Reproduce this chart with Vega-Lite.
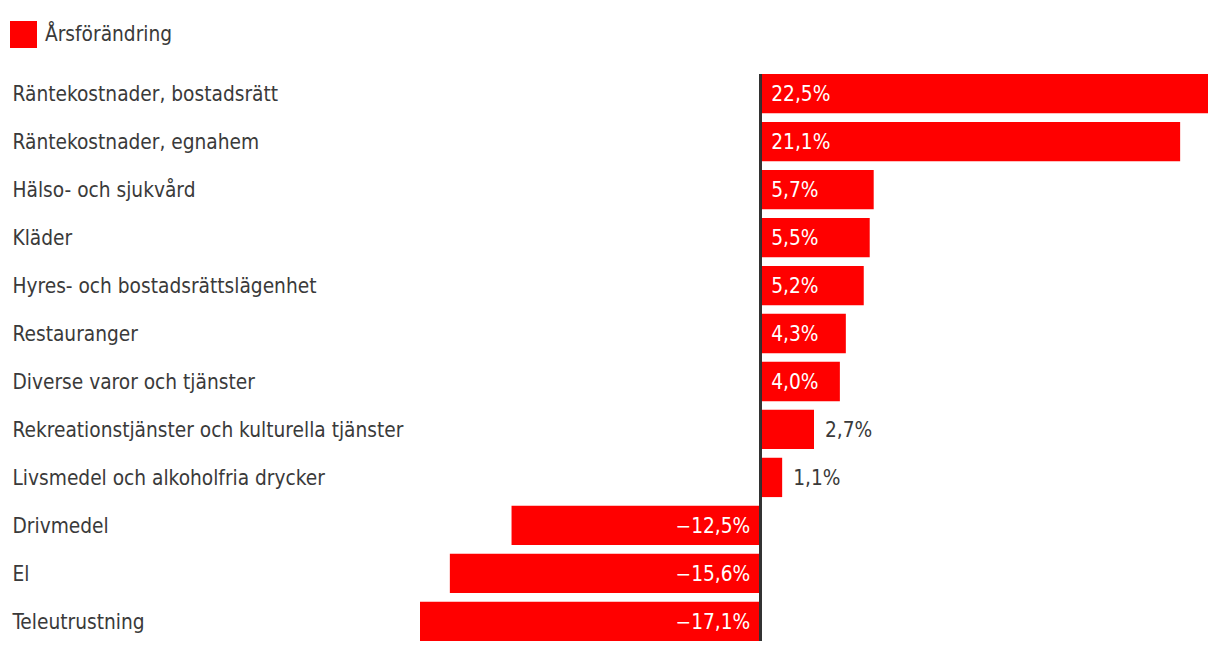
{
  "$schema": "https://vega.github.io/schema/vega-lite/v6.json",
  "autosize": {"type": "none"},
  "width": 788,
  "height": 567,
  "padding": {"left": 420, "top": 74, "right": 12, "bottom": 11},
  "background": "white",
  "config": {
    "view": {"stroke": null},
    "font": "DejaVu Sans Condensed, Roboto, sans-serif",
    "text": {"font": "DejaVu Sans Condensed, Roboto, sans-serif"}
  },
  "data": {
    "values": [
      {"kategori": "Räntekostnader, bostadsrätt", "value": 22.5, "label": "22,5%", "serie": "Årsförändring"},
      {"kategori": "Räntekostnader, egnahem", "value": 21.1, "label": "21,1%", "serie": "Årsförändring"},
      {"kategori": "Hälso- och sjukvård", "value": 5.7, "label": "5,7%", "serie": "Årsförändring"},
      {"kategori": "Kläder", "value": 5.5, "label": "5,5%", "serie": "Årsförändring"},
      {"kategori": "Hyres- och bostadsrättslägenhet", "value": 5.2, "label": "5,2%", "serie": "Årsförändring"},
      {"kategori": "Restauranger", "value": 4.3, "label": "4,3%", "serie": "Årsförändring"},
      {"kategori": "Diverse varor och tjänster", "value": 4.0, "label": "4,0%", "serie": "Årsförändring"},
      {"kategori": "Rekreationstjänster och kulturella tjänster", "value": 2.7, "label": "2,7%", "serie": "Årsförändring"},
      {"kategori": "Livsmedel och alkoholfria drycker", "value": 1.1, "label": "1,1%", "serie": "Årsförändring"},
      {"kategori": "Drivmedel", "value": -12.5, "label": "−12,5%", "serie": "Årsförändring"},
      {"kategori": "El", "value": -15.6, "label": "−15,6%", "serie": "Årsförändring"},
      {"kategori": "Teleutrustning", "value": -17.1, "label": "−17,1%", "serie": "Årsförändring"}
    ]
  },
  "encoding": {
    "y": {
      "field": "kategori",
      "type": "nominal",
      "sort": null,
      "scale": {"paddingInner": 0.18, "paddingOuter": 0},
      "axis": {
        "title": null,
        "domain": false,
        "ticks": false,
        "labelAlign": "left",
        "labelPadding": 408,
        "labelOffset": 1.5,
        "labelFontSize": 20.7,
        "labelColor": "#3a3a3a",
        "labelFont": "DejaVu Sans Condensed, Roboto, sans-serif",
        "labelLimit": 500
      }
    }
  },
  "layer": [
    {
      "mark": {"type": "bar"},
      "encoding": {
        "x": {
          "field": "value",
          "type": "quantitative",
          "scale": {"domain": [-17.1, 22.5], "nice": false, "zero": false},
          "axis": null
        },
        "color": {
          "field": "serie",
          "type": "nominal",
          "scale": {"range": ["#ff0000"]},
          "legend": {
            "title": null,
            "orient": "none",
            "legendX": -410,
            "legendY": -53,
            "symbolType": "square",
            "symbolSize": 729,
            "symbolStrokeWidth": 0,
            "symbolOpacity": 1,
            "labelFontSize": 20.7,
            "labelFont": "DejaVu Sans Condensed, Roboto, sans-serif",
            "labelColor": "#3a3a3a",
            "labelOffset": 8
          }
        }
      }
    },
    {
      "mark": {"type": "rule", "color": "#333333", "strokeWidth": 2},
      "encoding": {"x": {"datum": 0}, "y": null}
    },
    {
      "transform": [{"filter": "datum.value >= 4"}],
      "mark": {"type": "text", "align": "left", "dx": 11, "dy": 1.5, "fontSize": 20.7, "color": "white"},
      "encoding": {"x": {"datum": 0}, "text": {"field": "label"}}
    },
    {
      "transform": [{"filter": "datum.value > 0 && datum.value < 4"}],
      "mark": {"type": "text", "align": "left", "dx": 11, "dy": 1.5, "fontSize": 20.7, "color": "#3a3a3a"},
      "encoding": {"x": {"field": "value", "type": "quantitative"}, "text": {"field": "label"}}
    },
    {
      "transform": [{"filter": "datum.value < 0"}],
      "mark": {"type": "text", "align": "right", "dx": -10, "dy": 1.5, "fontSize": 20.7, "color": "white"},
      "encoding": {"x": {"datum": 0}, "text": {"field": "label"}}
    }
  ]
}
